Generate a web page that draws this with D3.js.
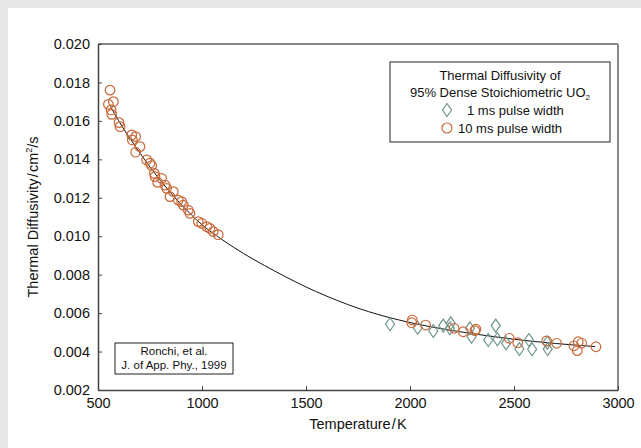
<!DOCTYPE html>
<html><head><meta charset="utf-8">
<script src="https://cdn.jsdelivr.net/npm/d3@7"></script>
<style>
html,body{margin:0;padding:0;background:#e8e8e8;}
svg{display:block;font-family:"Liberation Sans",Arial,sans-serif;}
</style></head>
<body>
<svg id="c" width="641" height="448"></svg>
<script>
// Fitted curve
const curveT = [560,600,700,800,900,1000,1100,1200,1300,1400,1500,1600,1700,1800,1900,2000,2100,2200,2300,2400,2500,2600,2700,2800,2890];
const curveV = [0.01675,0.0160,0.01435,0.0129,0.01165,0.0106,0.0098,0.0091,0.00848,0.0079,0.00736,0.00688,0.00645,0.00608,0.00577,0.00551,0.00529,0.0051,0.00493,0.00478,0.00464,0.00452,0.00442,0.00433,0.00426];

// 10 ms pulse width (circles)
const circT = [558,574,550,563,566,601,606,662,681,665,702,681,734,750,758,771,774,806,787,822,830,862,846,886,902,910,934,942,982,999,1023,1038,1054,1078,
               2011,2008,2075,2212,2256,2317,2312,2477,2518,2657,2705,2788,2809,2825,2804,2894];
const circV = [0.0176,0.0170,0.01686,0.01657,0.01634,0.01591,0.0157,0.01527,0.01518,0.01501,0.01466,0.01437,0.01397,0.0138,0.01367,0.01327,0.0131,0.01301,0.0128,0.01266,0.01249,0.01232,0.01206,0.01188,0.0118,0.01162,0.01136,0.01119,0.01076,0.01067,0.0105,0.01041,0.01024,0.01008,
               0.00564,0.0055,0.00538,0.00521,0.00503,0.00516,0.00509,0.00469,0.00446,0.00455,0.00443,0.0043,0.00451,0.00443,0.00405,0.00425];

// 1 ms pulse width (diamonds)
const diaT = [1904,2037,2112,2160,2196,2192,2288,2296,2376,2412,2420,2462,2526,2572,2587,2660,2662];
const diaV = [0.00542,0.00524,0.00507,0.00535,0.00547,0.00521,0.00521,0.00477,0.0046,0.00535,0.00464,0.00443,0.00413,0.0046,0.00412,0.00446,0.00413];

const xTicks = [500,1000,1500,2000,2500,3000];
const yTicks = [0.002,0.004,0.006,0.008,0.010,0.012,0.014,0.016,0.018,0.020];

const svg = d3.select("#c");
svg.append("rect").attr("x",8).attr("y",8).attr("width",641).attr("height",448).attr("fill","#fff");

const L=98,R=618,T=44,B=390;
const x = d3.scaleLinear().domain([500,3000]).range([L,R]);
const y = d3.scaleLinear().domain([0.002,0.020]).range([B,T]);

// frame top/right
svg.append("line").attr("x1",L).attr("x2",R).attr("y1",T).attr("y2",T).attr("stroke","#888").attr("stroke-width",2);
svg.append("line").attr("x1",R).attr("x2",R).attr("y1",T).attr("y2",B).attr("stroke","#888").attr("stroke-width",2);

const ax = svg.append("g").attr("transform",`translate(0,${B})`)
  .call(d3.axisBottom(x).tickValues(xTicks).tickSizeInner(-4).tickSizeOuter(0).tickPadding(8).tickFormat(d3.format("d")));
const ay = svg.append("g").attr("transform",`translate(${L},0)`)
  .call(d3.axisLeft(y).tickValues(yTicks).tickSizeInner(-4).tickSizeOuter(0).tickPadding(8).tickFormat(d3.format(".3f")));
[ax,ay].forEach(g=>{
  g.select(".domain").attr("stroke","#444").attr("stroke-width",1.5);
  g.selectAll(".tick line").attr("stroke","#444");
  g.selectAll(".tick text").attr("fill","#111").style("font-size","14.5px").style("font-family","Liberation Sans, Arial, sans-serif");
});

// axis titles
svg.append("text").attr("x",(L+R)/2).attr("y",429).attr("text-anchor","middle")
  .style("font-size","14.5px").attr("fill","#111").text("Temperature\u200A/\u200AK");
const yl = svg.append("text").attr("transform",`translate(38,${(T+B)/2}) rotate(-90)`).attr("text-anchor","middle")
  .style("font-size","14.5px").attr("fill","#111");
yl.append("tspan").text("Thermal Diffusivity\u200A/\u200Acm");
yl.append("tspan").attr("dy",-6).style("font-size","9px").text("2");
yl.append("tspan").attr("dy",6).text("/s");

// curve
const line = d3.line().x((d,i)=>x(curveT[i])).y((d,i)=>y(curveV[i])).curve(d3.curveMonotoneX);
svg.append("path").datum(curveT).attr("d",line).attr("fill","none").attr("stroke","#111").attr("stroke-width",1);

const orange="#c8693a", green="#6f968a";
const diamond = (cx,cy)=>`M${cx},${cy-6.5}L${cx+4.5},${cy}L${cx},${cy+6.5}L${cx-4.5},${cy}Z`;

svg.append("g").selectAll("path").data(diaT).join("path")
  .attr("d",(d,i)=>diamond(x(d),y(diaV[i]))).attr("fill","none").attr("stroke",green).attr("stroke-width",1.2);
svg.append("g").selectAll("circle").data(circT).join("circle")
  .attr("cx",d=>x(d)).attr("cy",(d,i)=>y(circV[i])).attr("r",4.8)
  .attr("fill","none").attr("stroke",orange).attr("stroke-width",1.2);

// legend
const lg = svg.append("g");
lg.append("rect").attr("x",390).attr("y",62).attr("width",220).attr("height",80).attr("fill","#fff").attr("stroke","#222").attr("stroke-width",1);
lg.append("text").attr("x",500).attr("y",80).attr("text-anchor","middle").style("font-size","13px").attr("fill","#111").text("Thermal Diffusivity of");
const t2 = lg.append("text").attr("x",500).attr("y",97).attr("text-anchor","middle").style("font-size","13px").attr("fill","#111");
t2.append("tspan").text("95% Dense Stoichiometric UO");
t2.append("tspan").attr("dy",3).style("font-size","8px").text("2");
lg.append("path").attr("d",diamond(447,110)).attr("fill","none").attr("stroke",green).attr("stroke-width",1.2);
lg.append("text").attr("x",467).attr("y",115).style("font-size","13px").attr("fill","#111").text("1 ms pulse width");
lg.append("circle").attr("cx",447).attr("cy",128).attr("r",5).attr("fill","none").attr("stroke",orange).attr("stroke-width",1.2);
lg.append("text").attr("x",458).attr("y",133).style("font-size","13px").attr("fill","#111").text("10 ms pulse width");

// citation box
const cb = svg.append("g");
cb.append("rect").attr("x",115).attr("y",343).attr("width",118).attr("height",31).attr("fill","#fff").attr("stroke","#222").attr("stroke-width",1);
cb.append("text").attr("x",174).attr("y",355).attr("text-anchor","middle").style("font-size","11.5px").attr("fill","#111").text("Ronchi, et al.");
cb.append("text").attr("x",174).attr("y",369).attr("text-anchor","middle").style("font-size","11.5px").attr("fill","#111").text("J. of App. Phy., 1999");
</script>
</body></html>
